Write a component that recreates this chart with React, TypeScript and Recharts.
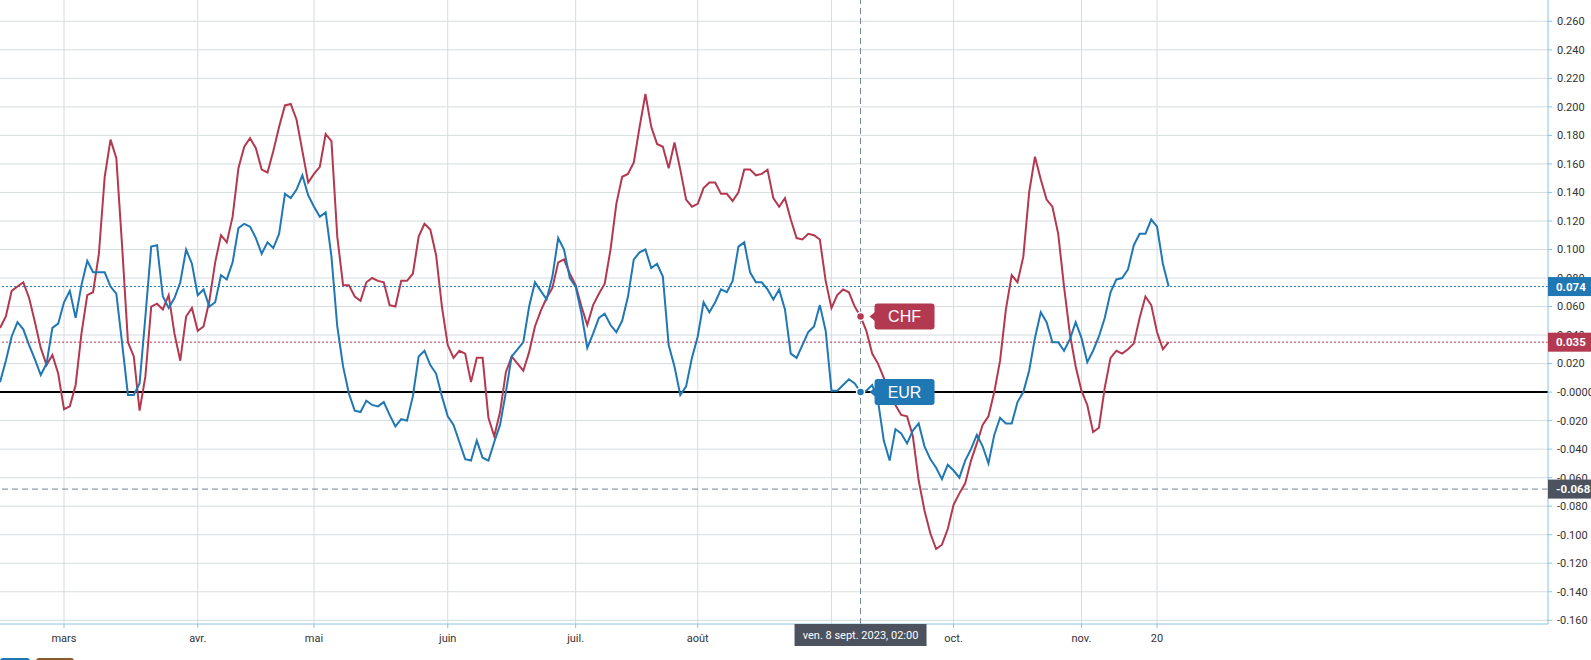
import React from "react";
import {
  ComposedChart,
  Line,
  XAxis,
  YAxis,
  CartesianGrid,
  ReferenceLine,
  ReferenceDot,
} from "recharts";

// Daily (weekday) bars from 14 Feb 2023 to 22 Nov 2023
const CHF = [
  0.045, 0.053, 0.071, 0.074, 0.077, 0.066, 0.049, 0.031, 0.019, 0.026,
  0.013, -0.012, -0.01, 0.005, 0.041, 0.068, 0.07, 0.097, 0.151, 0.177,
  0.164, 0.102, 0.035, 0.025, -0.013, 0.011, 0.06, 0.062, 0.058, 0.068,
  0.041, 0.022, 0.053, 0.059, 0.043, 0.046, 0.064, 0.091, 0.11, 0.105,
  0.123, 0.157, 0.172, 0.178, 0.171, 0.156, 0.154, 0.169, 0.186, 0.201,
  0.202, 0.191, 0.169, 0.147, 0.153, 0.158, 0.181, 0.176, 0.109, 0.075,
  0.075, 0.067, 0.064, 0.077, 0.08, 0.078, 0.077, 0.061, 0.06, 0.078,
  0.078, 0.083, 0.109, 0.118, 0.114, 0.096, 0.06, 0.033, 0.024, 0.029,
  0.027, 0.007, 0.024, 0.024, -0.018, -0.031, -0.014, 0.014, 0.025, 0.02,
  0.015, 0.028, 0.046, 0.057, 0.066, 0.073, 0.091, 0.093, 0.083, 0.075,
  0.06, 0.047, 0.061, 0.069, 0.076, 0.1, 0.132, 0.151, 0.153, 0.161,
  0.186, 0.209, 0.186, 0.174, 0.172, 0.157, 0.175, 0.156, 0.135, 0.13,
  0.132, 0.143, 0.147, 0.147, 0.139, 0.139, 0.134, 0.14, 0.156, 0.156,
  0.152, 0.153, 0.156, 0.136, 0.13, 0.136, 0.121, 0.108, 0.107, 0.111,
  0.11, 0.107, 0.078, 0.059, 0.068, 0.072, 0.07, 0.06, 0.053, 0.043,
  0.027, 0.02, 0.01, -0.001, -0.009, -0.016, -0.017, -0.031, -0.062, -0.083,
  -0.099, -0.11, -0.107, -0.096, -0.079, -0.071, -0.064, -0.048, -0.036, -0.023,
  -0.017, 0.0, 0.022, 0.058, 0.082, 0.077, 0.095, 0.14, 0.165, 0.149,
  0.135, 0.13, 0.111, 0.074, 0.041, 0.018, 0.001, -0.009, -0.028, -0.025,
  0.003, 0.024, 0.029, 0.027, 0.03, 0.034, 0.052, 0.067, 0.061, 0.042,
  0.03, 0.035,
];

const EUR = [
  0.007, 0.022, 0.039, 0.049, 0.044, 0.033, 0.023, 0.012, 0.02, 0.045,
  0.048, 0.063, 0.071, 0.052, 0.075, 0.092, 0.084, 0.084, 0.084, 0.074,
  0.069, 0.034, -0.002, -0.002, 0.006, 0.053, 0.102, 0.103, 0.067, 0.059,
  0.066, 0.077, 0.1, 0.09, 0.068, 0.072, 0.06, 0.063, 0.082, 0.079,
  0.091, 0.115, 0.118, 0.116, 0.108, 0.097, 0.105, 0.101, 0.111, 0.139,
  0.136, 0.142, 0.152, 0.138, 0.13, 0.123, 0.126, 0.095, 0.046, 0.018,
  -0.001, -0.013, -0.014, -0.006, -0.009, -0.01, -0.007, -0.016, -0.024, -0.019,
  -0.02, -0.003, 0.025, 0.029, 0.019, 0.013, -0.003, -0.017, -0.023, -0.035,
  -0.047, -0.048, -0.034, -0.046, -0.048, -0.035, -0.023, 0.0, 0.025, 0.03,
  0.035, 0.06, 0.077, 0.071, 0.065, 0.081, 0.108, 0.1, 0.08, 0.074,
  0.055, 0.031, 0.041, 0.052, 0.055, 0.047, 0.042, 0.05, 0.067, 0.093,
  0.098, 0.1, 0.087, 0.09, 0.081, 0.033, 0.018, -0.002, 0.004, 0.024,
  0.039, 0.063, 0.056, 0.063, 0.072, 0.07, 0.078, 0.102, 0.105, 0.084,
  0.077, 0.077, 0.072, 0.065, 0.072, 0.058, 0.027, 0.024, 0.033, 0.042,
  0.046, 0.061, 0.043, 0.001, 0.001, 0.005, 0.009, 0.006, 0.0, 0.001,
  0.005, -0.006, -0.034, -0.048, -0.026, -0.029, -0.036, -0.027, -0.022, -0.038,
  -0.047, -0.053, -0.061, -0.051, -0.055, -0.06, -0.048, -0.04, -0.03, -0.038,
  -0.05, -0.03, -0.018, -0.022, -0.022, -0.007, 0.0, 0.015, 0.038, 0.056,
  0.049, 0.035, 0.035, 0.029, 0.037, 0.049, 0.038, 0.021, 0.029, 0.039,
  0.052, 0.07, 0.079, 0.08, 0.086, 0.103, 0.111, 0.111, 0.121, 0.116,
  0.09, 0.074,
];

const TICK_BARS = [11, 34, 54, 77, 99, 120, 143, 164, 186, 199];
const TICK_LABELS = ["mars", "avr.", "mai", "juin", "juil.", "août", "sept.", "oct.", "nov.", "20"];
const Y_TICKS = [
  -0.16, -0.14, -0.12, -0.1, -0.08, -0.06, -0.04, -0.02, 0, 0.02, 0.04, 0.06,
  0.08, 0.1, 0.12, 0.14, 0.16, 0.18, 0.2, 0.22, 0.24, 0.26,
];
const X_DOMAIN = [-0.0086, 266.24];
const Y_DOMAIN = [-0.1626, 0.27493];

const CROSS_BAR = 148;
const CROSS_Y = -0.068;
const CROSS_LABEL = "ven. 8 sept. 2023, 02:00";

const RED = "#b2394f";
const BLUE = "#1f78b4";
const DARK = "#4c525e";
const AXIS = "#8cc2e4";
const GRID = "#d6dcdf";
const CROSS = "#758696";
const TEXT = "#333333";
const FONT = "Roboto, 'Liberation Sans', sans-serif";

const X_TICK_SIZE = 4;
const X_TICK_MARGIN = 6;
const Y_TICK_SIZE = 4;
const Y_TICK_MARGIN = 5;
const Y_AXIS_W = 43;
const DATE_BADGE_W = 132;

const LAST_CHF = CHF[CHF.length - 1];
const LAST_EUR = EUR[EUR.length - 1];

// price badges drawn on the right scale (last in tick order so they sit on top)
const PRICE_BADGES = [
  { value: LAST_EUR, color: BLUE },
  { value: LAST_CHF, color: RED },
  { value: CROSS_Y, color: DARK },
];

const rows = CHF.map((c, i) => ({ bar: i, chf: c, eur: EUR[i] }));

const fmtY = (v: number) => (Math.abs(v) < 1e-9 ? "-0.0000" : v.toFixed(3));

const crossPixel: { x: number | null } = { x: null };

const XTick = (props: any) => {
  const { x, y, payload, index } = props;
  const v = payload.value;
  if (index >= TICK_BARS.length) {
    // crosshair date badge
    const top = y - X_TICK_MARGIN - X_TICK_SIZE;
    return (
      <g>
        <rect x={x - DATE_BADGE_W / 2} y={top} width={DATE_BADGE_W} height={22} fill={DARK} />
        <text
          x={x}
          y={top + 11}
          dy="0.36em"
          textAnchor="middle"
          fill="#ffffff"
          fontSize={11}
          fontFamily={FONT}
        >
          {CROSS_LABEL}
        </text>
      </g>
    );
  }
  const k = TICK_BARS.indexOf(v);
  const label = k >= 0 ? TICK_LABELS[k] : "";
  // the month label hidden under the crosshair date badge is not shown
  const covered = Math.abs(v - CROSS_BAR) * 5.814 < DATE_BADGE_W / 2;
  if (covered) return <g />;
  return (
    <text
      x={x}
      y={y}
      dy="0.71em"
      textAnchor="middle"
      fill={TEXT}
      fontSize={11}
      fontFamily={FONT}
    >
      {label}
    </text>
  );
};

const YTick = (props: any) => {
  const { x, y, payload, index } = props;
  const v = payload.value;
  if (index >= Y_TICKS.length) {
    const b = PRICE_BADGES[index - Y_TICKS.length];
    const left = x - Y_TICK_MARGIN - Y_TICK_SIZE;
    return (
      <g>
        <rect x={left} y={y - 9.5} width={Y_AXIS_W} height={19} fill={b.color} />
        <text
          x={x - 1}
          y={y}
          dy="0.36em"
          fill="#ffffff"
          fontSize={11.5}
          fontWeight="bold"
          fontFamily={FONT}
        >
          {v.toFixed(3)}
        </text>
      </g>
    );
  }
  return (
    <text x={x} y={y} dy="0.355em" fill={TEXT} fontSize={11} fontFamily={FONT}>
      {fmtY(v)}
    </text>
  );
};

const seriesBadge = (color: string, text: string) => (props: any) => {
  const { cx, cy } = props;
  return (
    <g>
      <circle cx={cx} cy={cy} r={4} fill={color} stroke="#ffffff" strokeWidth={1.5} />
      <path d={`M ${cx + 9} ${cy} L ${cx + 15} ${cy - 5} L ${cx + 15} ${cy + 5} Z`} fill={color} />
      <rect x={cx + 14} y={cy - 13} width={60} height={26} rx={3} ry={3} fill={color} />
      <text
        x={cx + 44}
        y={cy}
        dy="0.36em"
        textAnchor="middle"
        fill="#ffffff"
        fontSize={16}
        fontFamily="'Liberation Sans', Arial, sans-serif"
      >
        {text}
      </text>
    </g>
  );
};

export default function App() {
  return (
    <div style={{ position: "relative", width: 1591, height: 660, overflow: "hidden", background: "#fff" }}>
      <style>{"body{margin:0;}"}</style>
      <ComposedChart
        width={1591}
        height={660}
        data={rows}
        margin={{ top: 0, right: 0, bottom: 0, left: 0 }}
      >
        <CartesianGrid
          stroke={GRID}
          strokeWidth={1}
          horizontalValues={Y_TICKS}
          verticalValues={TICK_BARS}
        />
        <XAxis
          dataKey="bar"
          type="number"
          domain={X_DOMAIN}
          allowDataOverflow
          ticks={[...TICK_BARS, CROSS_BAR]}
          interval={0}
          height={36}
          stroke={AXIS}
          tickSize={X_TICK_SIZE}
          tickMargin={X_TICK_MARGIN}
          tick={<XTick />}
        />
        <YAxis
          orientation="right"
          type="number"
          domain={Y_DOMAIN}
          allowDataOverflow
          ticks={[...Y_TICKS, ...PRICE_BADGES.map((b) => b.value)]}
          interval={0}
          width={Y_AXIS_W}
          stroke={AXIS}
          tickSize={Y_TICK_SIZE}
          tickMargin={Y_TICK_MARGIN}
          tick={<YTick />}
        />
        <ReferenceLine y={0} stroke="#000000" strokeWidth={2} />
        <ReferenceLine y={LAST_EUR} stroke={BLUE} strokeDasharray="2 2" strokeWidth={1} />
        <ReferenceLine y={LAST_CHF} stroke={RED} strokeDasharray="2 2" strokeWidth={1} />
        <ReferenceLine y={CROSS_Y} stroke={CROSS} strokeDasharray="6 4" strokeWidth={1} />
        <ReferenceLine x={CROSS_BAR} stroke={CROSS} strokeDasharray="6 4" strokeWidth={1} />
        <Line
          type="linear"
          dataKey="chf"
          stroke={RED}
          strokeWidth={2}
          dot={false}
          activeDot={false}
          isAnimationActive={false}
        />
        <Line
          type="linear"
          dataKey="eur"
          stroke={BLUE}
          strokeWidth={2}
          dot={false}
          activeDot={false}
          isAnimationActive={false}
        />
        <ReferenceDot x={CROSS_BAR} y={CHF[CROSS_BAR]} shape={seriesBadge(RED, "CHF")} />
        <ReferenceDot x={CROSS_BAR} y={EUR[CROSS_BAR]} shape={seriesBadge(BLUE, "EUR")} />
      </ComposedChart>
      <div style={{ position: "absolute", left: 0, top: 658, width: 30, height: 12, background: BLUE, borderRadius: 3 }} />
      <div style={{ position: "absolute", left: 36, top: 658, width: 38, height: 12, background: "#8b5a2b", borderRadius: 3 }} />
    </div>
  );
}
